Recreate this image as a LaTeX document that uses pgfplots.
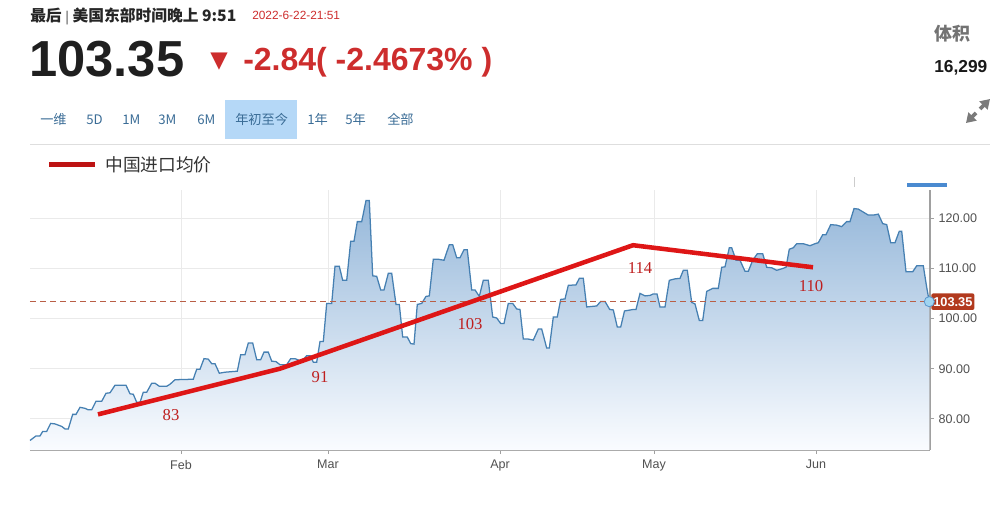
\documentclass[border=0pt]{standalone}
\usepackage{fontspec}
\setmainfont{Liberation Sans}
\newfontfamily\cjk{Noto Sans CJK SC}
\newfontfamily\serif{Liberation Serif}
\newfontfamily\sym{DejaVu Sans}
\usepackage{pgfplots}
\pgfplotsset{compat=1.18}
\usepackage{pgfplotstable}
\usetikzlibrary{arrows.meta}

\definecolor{lineblue}{RGB}{70,128,178}
\definecolor{fillTop}{RGB}{150,184,218}
\definecolor{fillBot}{RGB}{250,252,255}
\definecolor{dashcol}{RGB}{185,95,70}
\definecolor{avgred}{RGB}{222,22,22}
\definecolor{labred}{RGB}{190,30,30}
\definecolor{headred}{RGB}{205,45,45}
\definecolor{tabblue}{RGB}{58,108,150}
\definecolor{tabhi}{RGB}{181,216,247}
\definecolor{gridgray}{RGB}{234,234,234}
\definecolor{axisgray}{RGB}{160,160,160}
\definecolor{ticktext}{RGB}{80,80,80}
\definecolor{boxcol}{RGB}{178,58,30}
\definecolor{dotfill}{RGB}{160,212,240}
\definecolor{dotdraw}{RGB}{90,150,205}
\definecolor{navblue}{RGB}{74,138,208}

\newcommand\fs[1]{\fontsize{#1}{#1}\selectfont}

% price series, x = horizontal position across the plot
\pgfplotstableread{
x y
30 75.7
36 76.6
40 76.6
42.7 77.5
46.7 77.5
50.7 79.1
55 79.0
61.7 78.5
65 78.0
68.3 78.0
72.7 80.9
76 80.9
80 82.3
85 82.1
88.3 81.8
91.7 81.8
96 83.5
101.7 83.5
106 85.1
110 85.2
115 86.7
126 86.7
130 85.0
133.3 84.9
136.7 83.3
140 83.3
143.3 85.3
146.7 85.3
151.7 87.1
155 87.1
159.3 86.5
166.7 86.5
170 86.9
175 87.8
193.3 87.9
196.7 89.9
200 89.9
204 92.0
208.3 91.9
211.7 91.0
215 91.0
219.3 89.1
225 89.3
237.3 89.5
240.7 92.8
245 92.8
248.3 95.1
252.7 95.1
256.7 91.8
260.7 91.8
264 93.3
268.3 93.3
271.7 91.5
276 91.4
280 90.8
286.7 90.8
290.7 92.0
295 92.0
300 91.6
304 92.0
306.7 92.6
310 92.6
313.3 91.3
316.7 91.3
320 95.4
323.3 95.4
326.7 103.0
331.7 103.0
335 110.4
339.3 110.4
342.7 107.6
346.7 107.6
350.7 115.4
354 115.4
357.3 119.3
361.7 119.3
366 123.5
369.3 123.5
372.7 108.5
376.7 108.4
380.7 105.7
384 105.7
388.3 109.0
391.7 109.0
396 102.8
399.3 102.8
402.7 96.3
407.3 96.3
410.7 95.0
414 94.9
417.3 102.8
421.7 103.0
426 104.4
429.3 104.5
433.3 111.8
438.3 111.8
444 111.6
449.3 114.7
452.7 114.7
456.7 112.1
460 112.1
464 113.7
467.3 113.7
471.7 105.7
475 105.7
479.3 104.4
483.3 107.6
488.3 107.6
492.7 100.3
496.7 100.1
500.7 99.0
504 99.0
508.3 103.0
512.7 103.0
516.7 101.9
520 101.8
523.3 95.9
528.3 95.9
533.3 95.7
538.3 97.9
541.7 97.9
546.7 94.1
549.3 94.1
553.3 100.3
557.3 100.3
560.7 103.8
565 103.9
568.3 106.6
576 106.7
579.3 108.0
583.3 108.0
586.7 102.3
596.7 102.5
600.7 103.4
605 103.4
609.7 101.8
613.3 101.7
617.3 98.3
620.7 98.3
624.5 101.5
633.3 101.8
636 101.8
640 105.0
645 104.5
650 104.6
653.3 104.9
657 104.9
660 102.3
665 102.3
669.3 107.6
675 107.9
680 108.0
683.3 109.6
687.3 109.6
691.7 103.2
695 102.9
699.3 99.6
702.7 99.6
706.7 105.4
712.7 106.0
718.3 106.0
721.7 110.2
725 110.3
729.3 114.1
731.7 114.1
736 111.6
740 111.6
745 109.4
748.3 109.4
752.7 111.6
757.3 112.9
762.7 112.9
766.7 110.2
771.7 110.1
776.7 109.6
781.7 109.9
786 110.2
789.3 113.8
793.3 114.1
796.7 114.9
803.3 114.9
810 114.5
815 114.9
818.3 115.1
822.7 116.7
826 116.7
830.7 118.7
836.7 118.6
841.7 118.3
846.7 119.3
850 119.3
854 121.9
858.3 121.8
863.3 121.2
868.3 120.6
873.3 120.6
878.3 120.8
882.7 118.9
886.7 118.7
890.7 115.1
895 115.1
899.3 117.4
901.7 117.4
906 109.3
912.7 109.3
916.7 110.5
923.3 110.5
926.7 106.2
929.3 103.35
}\price

\begin{document}
\begin{tikzpicture}
\useasboundingbox (0,0) rectangle (750pt,-380.25pt);

\begin{scope}[x=0.75pt,y=-0.75pt]
  % header
  \node[anchor=base west, inner sep=0, font=\cjk\bfseries\fs{11.8pt}, text=black!85] at (30,21) {最后 {\color{black!50}\fs{9pt}|} 美国东部时间晚上 9:51};
  \node[anchor=base west, inner sep=0, font=\fs{8.9pt}, text=headred] at (252,19.5) {2022-6-22-21:51};
  \node[anchor=base west, inner sep=0, font=\bfseries\fs{38pt}, text=black!88] at (29,76) {103.35};
  \node[anchor=base west, inner sep=0, font=\sym\fs{17pt}, text=headred] at (210,67) {▼};
  \node[anchor=base west, inner sep=0, font=\bfseries\fs{24pt}, text=headred] at (243,70) {-2.84( -2.4673\% )};
  \node[anchor=base west, inner sep=0, font=\cjk\bfseries\fs{13.5pt}, text=black!55] at (934,40) {体积};
  \node[anchor=base west, inner sep=0, font=\bfseries\fs{13pt}, text=black!90] at (934,72) {16,299};
  % range tabs
  \fill[tabhi] (225,100) rectangle (297,139);
  \foreach \t/\xx in {一维/40, 5D/86, 1M/122, 3M/158, 6M/197, 年初至今/235, 1年/307, 5年/345, 全部/387}
    \node[anchor=base west, inner sep=0, font=\cjk\fs{9.9pt}, text=tabblue] at (\xx,124) {\t};
  % expand icon
  \draw[black!52, line width=2.8pt, -{Triangle[length=7pt,width=8.5pt]}] (980,109) -- (990,99);
  \draw[black!52, line width=2.8pt, -{Triangle[length=7pt,width=8.5pt]}] (976,113) -- (966,123);
  \draw[black!13, line width=0.75pt] (30,144.5) -- (990,144.5);
  % legend
  \draw[avgred!85!black, line width=3.4pt] (49,164.5) -- (95,164.5);
  \node[anchor=base west, inner sep=0, font=\cjk\fs{13.3pt}, text=black!80] at (105,171) {中国进口均价};
  % navigator bits above the plot
  \draw[black!20, line width=0.75pt] (854,177) -- (854,187);
  \draw[navblue, line width=2.4pt] (907,185) -- (947,185);
\end{scope}

\begin{axis}[
  at={(22.5pt,-337.5pt)}, anchor=south west,
  scale only axis, width=675pt, height=195pt,
  xmin=30, xmax=930, ymin=73.8, ymax=125.6,
  axis x line*=bottom, axis y line*=right,
  axis line style={draw=axisgray, line width=0.8pt},
  xtick={181,328,500,654,816},
  xticklabels={Feb,Mar,Apr,May,Jun},
  ytick={80,90,100,110,120},
  /pgf/number format/assume math mode=true,
  yticklabel={\pgfmathprintnumber[fixed, fixed zerofill, precision=2]{\tick}},
  grid=major,
  major grid style={draw=gridgray, line width=0.75pt},
  tick align=outside, major tick length=3pt,
  tick style={draw=axisgray, line width=0.75pt},
  ticklabel style={font=\fs{9.4pt}, text=ticktext},
  xticklabel style={yshift=-1pt},
  clip=false,
]
  \addplot[draw=none, top color=fillTop, bottom color=fillBot]
    table[x=x, y=y] {\price} |- (axis cs:30,73.8) -- cycle;
  \addplot[draw=lineblue, line width=0.95pt, mark=none] table[x=x, y=y] {\price};
  \addplot[draw=dashcol, line width=0.75pt, dash pattern=on 4.5pt off 3pt]
    coordinates {(30,103.35) (930,103.35)};
  \addplot[draw=avgred, line width=3.4pt, line join=round]
    coordinates {(98,80.9) (280,90.0) (320,92.8) (633,114.6) (813,110.2)};
  \node[font=\serif\fs{12.5pt}, text=labred] at (axis cs:171,80.8) {83};
  \node[font=\serif\fs{12.5pt}, text=labred] at (axis cs:320,88.4) {91};
  \node[font=\serif\fs{12.5pt}, text=labred] at (axis cs:470,98.9) {103};
  \node[font=\serif\fs{12.5pt}, text=labred] at (axis cs:640,110.0) {114};
  \node[font=\serif\fs{12.5pt}, text=labred] at (axis cs:811,106.5) {110};
  \node[fill=boxcol, text=white, font=\bfseries\fs{9.6pt}, inner xsep=1.5pt, inner ysep=2.8pt,
        rounded corners=1.5pt, anchor=west] at (axis cs:931,103.35) {103.35};
  \addplot[only marks, mark=*, mark size=3.8pt,
           mark options={fill=dotfill, draw=dotdraw, line width=0.6pt}]
    coordinates {(929.3,103.35)};
\end{axis}
\end{tikzpicture}
\end{document}
